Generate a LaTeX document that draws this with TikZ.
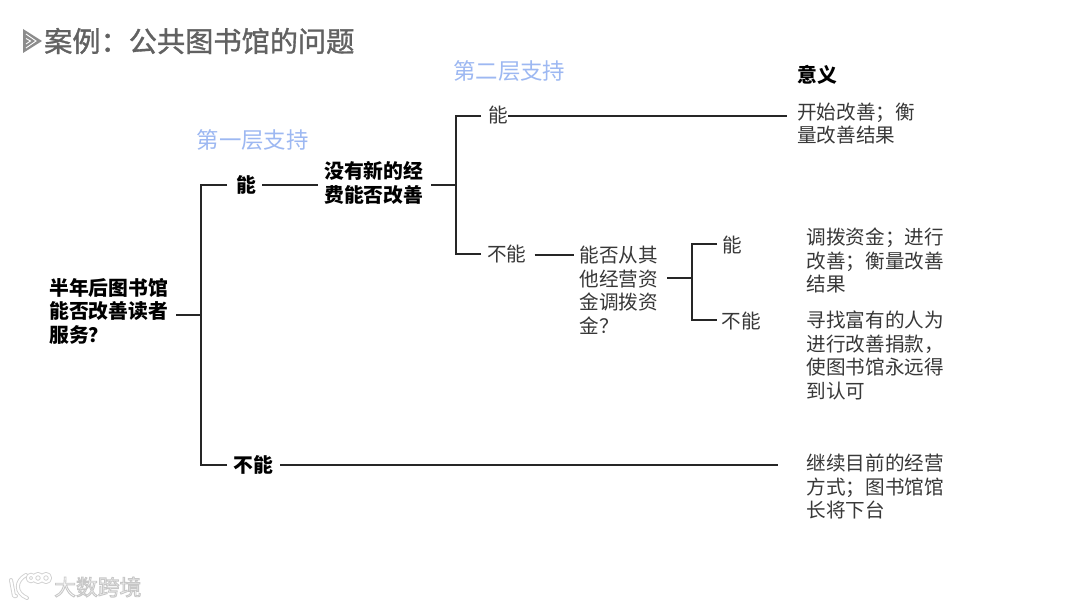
\documentclass[tikz,border=0pt]{standalone}
\usepackage{fontspec}
\setmainfont{Noto Sans CJK SC}
\newfontfamily\titlefont[FakeBold=1.2]{Noto Sans CJK SC}
\begin{document}
\begin{tikzpicture}[x=1pt,y=-1pt,
  conn/.style={draw=black!85,line width=1.3pt},
  lab/.style={font=\fontsize{19.6}{23.5}\selectfont,text=black!78,align=left,inner sep=0pt,anchor=west},
  blab/.style={font=\fontsize{19.8}{23.5}\selectfont\bfseries,text=black,align=left,inner sep=0pt,anchor=west},
  headblue/.style={font=\fontsize{22.4}{26}\selectfont,inner sep=0pt,anchor=west,text=layerblue},
  wm/.style={font=\fontsize{21.8}{24}\selectfont,inner sep=0pt,anchor=west}]
\definecolor{layerblue}{HTML}{9DB8F2}
\useasboundingbox (0,0) rectangle (1080,607);
\fill[white] (0,0) rectangle (1080,607);
% title
\fill[black!45] (23,29) -- (42,41) -- (23,53) -- cycle;
\draw[white,line width=.9pt] (26,34) -- (36,41) -- (26,48) (26,38.5) -- (30.5,41) -- (26,44);
\node[font=\fontsize{28.2}{32}\selectfont\titlefont,text=black!62,inner sep=0pt,anchor=west] (title) at (44,41) {案例：公共图书馆的问题};
% headings
\node[headblue] (h1) at (196.5,140) {第一层支持};
\node[headblue] (h2) at (453,71) {第二层支持};
\node[blab] (h3) at (797,75) {意义};
% decision nodes
\node[blab] (root) at (49,311) {半年后图书馆\\能否改善读者\\服务？};
\node[blab] (yesA) at (236,185) {能};
\node[blab] (noA) at (233,465) {不能};
\node[blab] (qB) at (324,183) {没有新的经\\费能否改善};
\node[lab] (yesB) at (488,115) {能};
\node[lab] (noB) at (487,254) {不能};
\node[lab] (qC) at (579.5,290) {能否从其\\他经营资\\金调拨资\\金？};
\node[lab] (yesC) at (722,245) {能};
\node[lab] (noC) at (721.5,321) {不能};
% outcomes
\node[lab] (o1) at (797,123.5) {开始改善；衡\\量改善结果};
\node[lab] (o2) at (806.5,260.5) {调拨资金；进行\\改善；衡量改善\\结果};
\node[lab] (o3) at (806.5,355.5) {寻找富有的人为\\进行改善捐款，\\使图书馆永远得\\到认可};
\node[lab] (o4) at (806.5,486.5) {继续目前的经营\\方式；图书馆馆\\长将下台};
% junctions
\coordinate (j1) at (201,315);
\coordinate (j2) at (456,185);
\coordinate (j3) at (692,278);
% connectors
\draw[conn] ([xshift=8pt]root.east |- j1) -- (j1);
\draw[conn] ([xshift=-9pt]yesA.west) -| (j1);
\draw[conn] ([xshift=-6pt]noA.west) -| (j1);
\draw[conn] ([xshift=6pt]yesA.east) -- ([xshift=-6pt]qB.west |- yesA.east);
\draw[conn] ([xshift=8pt]qB.east |- j2) -- (j2);
\draw[conn] ([xshift=-7pt]yesB.west |- 0,116) -| (j2);
\draw[conn] ([xshift=-6pt]noB.west) -| (j2);
\draw[conn] (yesB.east |- 0,116) -- ([xshift=-10pt]o1.west |- 0,116);
\draw[conn] ([xshift=8pt]noB.east |- 0,255) -- ([xshift=-6pt]qC.west |- 0,255);
\draw[conn] ([xshift=9pt]qC.east |- j3) -- (j3);
\draw[conn] ([xshift=-5pt]yesC.west |- 0,244) -| (j3);
\draw[conn] ([xshift=-5pt]noC.west |- 0,320) -| (j3);
\draw[conn] ([xshift=7pt]noA.east) -- ([xshift=-28.5pt]o4.west |- noA.east);
% watermark
\begin{scope}[line cap=round,line join=round]
\foreach \c/\w in {black!18/4,white/2.2}{
 \draw[\c,line width=\w pt] (11,580) -- (14,596) -- (16,596) (26,575) .. controls (15,581) and (15,593) .. (27,598);
 \draw[\c,line width=\w pt] (31,578) circle (3.2) (38,578) circle (4) (46,578) circle (4);
}
\end{scope}
\node[wm,text=white] (wmark) at (54,587) {\special{pdf:code q 2 Tr 0.78 G 0.9 w}大数跨境\special{pdf:code 0 Tr Q}};
\end{tikzpicture}
\end{document}
